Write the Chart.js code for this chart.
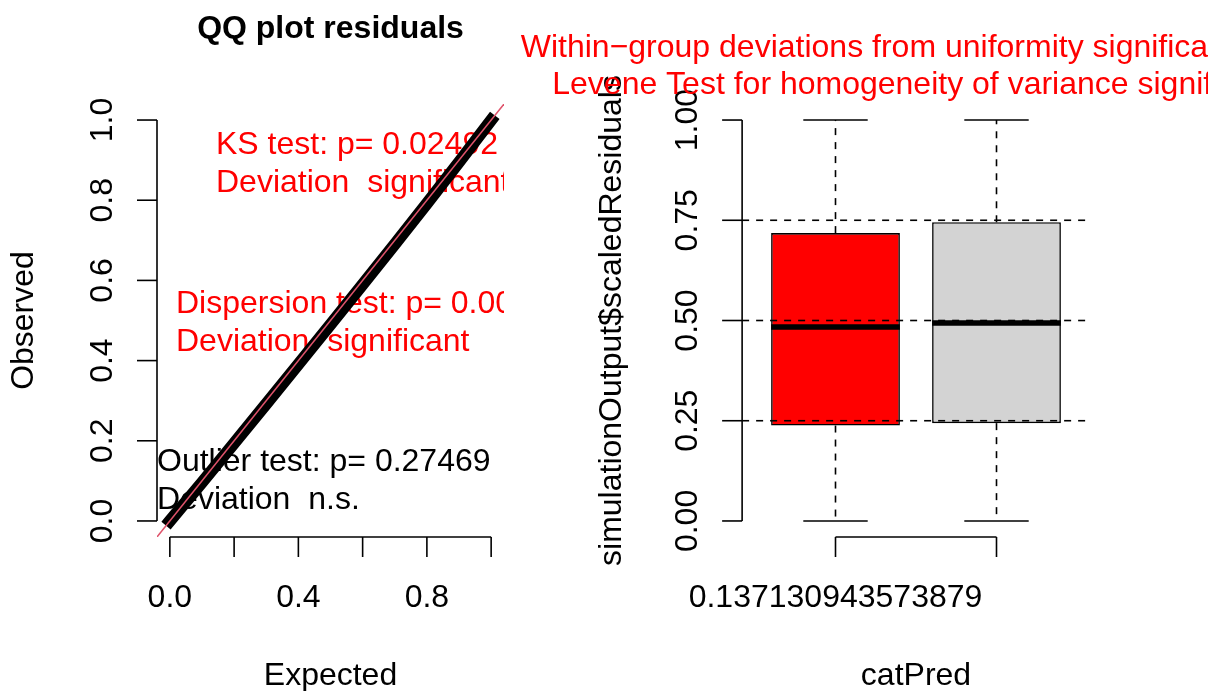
<!DOCTYPE html>
<html>
<head>
<meta charset="utf-8">
<script src="https://cdn.jsdelivr.net/npm/chart.js@4"></script>
<style>
  html, body { margin: 0; padding: 0; background: #fff; }
  #wrap { position: relative; width: 1223px; height: 691px; }
  canvas { position: absolute; left: 0; top: 0; }
</style>
</head>
<body>
<div id="wrap">
  <canvas id="qqChart" width="1223" height="691"></canvas>
  <canvas id="boxChart" width="1223" height="691"></canvas>
</div>
<script>
// QQ plot of the scaled residuals
const qqExpected = [0, 0.1, 0.2, 0.3, 0.4, 0.5, 0.6, 0.7, 0.8, 0.9, 1.0];
const qqObserved = [0, 0.096, 0.194, 0.292, 0.391, 0.49, 0.59, 0.69, 0.792, 0.895, 1.0];
const qqTicks = [0, 0.2, 0.4, 0.6, 0.8, 1.0];
const qqTickLabelsX = ['0.0', '', '0.4', '', '0.8', '']; // R drops the labels that would overlap
const qqTickLabelsY = ['0.0', '0.2', '0.4', '0.6', '0.8', '1.0'];
const ksText = ['KS test: p= 0.02492', 'Deviation  significant'];
const dispText = ['Dispersion test: p= 0.008', 'Deviation  significant'];
const outlierText = ['Outlier test: p= 0.27469', 'Deviation  n.s.'];

// boxplot of scaled residuals per level of catPred
const boxCategories = ['0.137130943573879', '']; // second level label is hidden in the original
const boxMin = [0, 0];
const boxQ1 = [0.238, 0.244];
const boxMedian = [0.484, 0.494];
const boxQ3 = [0.718, 0.745];
const boxMax = [1, 1];
const boxColors = ['#FF0000', '#D3D3D3'];
const boxTicks = [0, 0.25, 0.5, 0.75, 1];
const boxTickLabels = ['0.00', '0.25', '0.50', '0.75', '1.00'];
const refLines = [0.25, 0.5, 0.75];
const boxTitles = [
  'Within\u2212group deviations from uniformity significant (red)',
  'Levene Test for homogeneity of variance significant'
];

const FONT = '"Liberation Sans", Arial, Helvetica, sans-serif';
const FS = 32;
const TICK = 20;
const AXIS_LW = 1.6;

function rotText(ctx, text, x, y) {
  ctx.save();
  ctx.translate(x, y);
  ctx.rotate(-Math.PI / 2);
  ctx.textAlign = 'center';
  ctx.textBaseline = 'alphabetic';
  ctx.fillText(text, 0, 0);
  ctx.restore();
}

function line(ctx, x1, y1, x2, y2) {
  ctx.beginPath();
  ctx.moveTo(x1, y1);
  ctx.lineTo(x2, y2);
  ctx.stroke();
}

// ---------- left panel ----------
const qqPoints = qqExpected.map((x, i) => ({ x: x, y: qqObserved[i] }));
const qqLim = [-0.04, 1.04];

const qqPlugin = {
  id: 'qqAxes',
  beforeDraw(chart) {
    const ctx = chart.ctx;
    ctx.save();
    ctx.fillStyle = '#fff';
    ctx.fillRect(0, 0, chart.width, chart.height);
    ctx.restore();
  },
  beforeDatasetsDraw(chart) {
    const ctx = chart.ctx;
    const a = chart.chartArea;
    ctx.save();
    ctx.beginPath();
    ctx.rect(a.left, a.top, a.right - a.left, a.bottom - a.top);
    ctx.clip();
    ctx.font = FS + 'px ' + FONT;
    ctx.textAlign = 'left';
    ctx.textBaseline = 'alphabetic';
    const blocks = [
      { t: ksText, x: a.left + 59, y: 154, c: '#FF0000' },
      { t: dispText, x: a.left + 19, y: 313, c: '#FF0000' },
      { t: outlierText, x: a.left, y: 471, c: '#000' }
    ];
    blocks.forEach(b => {
      ctx.fillStyle = b.c;
      b.t.forEach((s, i) => ctx.fillText(s, b.x, b.y + i * 38));
    });
    ctx.restore();
  },
  afterDraw(chart) {
    const ctx = chart.ctx;
    const a = chart.chartArea;
    const xs = chart.scales.x;
    const ys = chart.scales.y;
    ctx.save();
    ctx.strokeStyle = '#000';
    ctx.fillStyle = '#000';
    ctx.lineWidth = AXIS_LW;
    // x axis
    line(ctx, xs.getPixelForValue(qqTicks[0]), a.bottom, xs.getPixelForValue(qqTicks[qqTicks.length - 1]), a.bottom);
    ctx.font = FS + 'px ' + FONT;
    ctx.textAlign = 'center';
    qqTicks.forEach((v, i) => {
      const px = xs.getPixelForValue(v);
      line(ctx, px, a.bottom, px, a.bottom + TICK);
      if (qqTickLabelsX[i]) ctx.fillText(qqTickLabelsX[i], px, a.bottom + 70);
    });
    // y axis
    line(ctx, a.left, ys.getPixelForValue(qqTicks[0]), a.left, ys.getPixelForValue(qqTicks[qqTicks.length - 1]));
    qqTicks.forEach((v, i) => {
      const py = ys.getPixelForValue(v);
      line(ctx, a.left - TICK, py, a.left, py);
      rotText(ctx, qqTickLabelsY[i], a.left - 45, py);
    });
    // titles
    const cx = (a.left + a.right) / 2;
    ctx.fillText('Expected', cx, a.bottom + 148);
    rotText(ctx, 'Observed', a.left - 124, (a.top + a.bottom) / 2);
    ctx.font = 'bold ' + FS + 'px ' + FONT;
    ctx.fillText('QQ plot residuals', cx, 38);
    ctx.restore();
  }
};

new Chart(document.getElementById('qqChart'), {
  type: 'scatter',
  data: {
    datasets: [
      {
        // identity line y = x over the whole plot region
        data: [{ x: qqLim[0], y: qqLim[0] }, { x: qqLim[1], y: qqLim[1] }],
        showLine: true,
        borderColor: '#DF536B',
        borderWidth: 1.5,
        pointRadius: 0,
        clip: 0
      },
      {
        data: qqPoints,
        showLine: true,
        borderColor: '#000',
        borderWidth: 12,
        borderCapStyle: 'square',
        pointRadius: 0,
        clip: 0
      }
    ]
  },
  options: {
    responsive: false,
    animation: false,
    layout: { padding: { left: 157, right: 719, top: 104, bottom: 154 } },
    scales: {
      x: { type: 'linear', min: qqLim[0], max: qqLim[1], display: false },
      y: { type: 'linear', min: qqLim[0], max: qqLim[1], display: false }
    },
    plugins: { legend: { display: false }, tooltip: { enabled: false } }
  },
  plugins: [qqPlugin]
});

// ---------- right panel ----------
const boxPlugin = {
  id: 'boxParts',
  afterDatasetsDraw(chart) {
    const ctx = chart.ctx;
    const ys = chart.scales.y;
    const xs = chart.scales.x;
    const meta = chart.getDatasetMeta(0);
    ctx.save();
    ctx.strokeStyle = '#000';
    meta.data.forEach((bar, i) => {
      const x = bar.x;
      const w = bar.width;
      // whiskers
      ctx.lineWidth = AXIS_LW;
      ctx.setLineDash([7, 7]);
      line(ctx, x, ys.getPixelForValue(boxQ3[i]), x, ys.getPixelForValue(boxMax[i]));
      line(ctx, x, ys.getPixelForValue(boxQ1[i]), x, ys.getPixelForValue(boxMin[i]));
      ctx.setLineDash([]);
      // staples
      line(ctx, x - w / 4, ys.getPixelForValue(boxMax[i]), x + w / 4, ys.getPixelForValue(boxMax[i]));
      line(ctx, x - w / 4, ys.getPixelForValue(boxMin[i]), x + w / 4, ys.getPixelForValue(boxMin[i]));
      // median
      ctx.lineWidth = 5.5;
      line(ctx, x - w / 2, ys.getPixelForValue(boxMedian[i]), x + w / 2, ys.getPixelForValue(boxMedian[i]));
    });
    // dashed reference lines across the plot region
    const left = xs.getPixelForValue(-0.58);
    const right = xs.getPixelForValue(boxCategories.length - 1 + 0.58);
    ctx.lineWidth = AXIS_LW;
    ctx.setLineDash([7, 7]);
    refLines.forEach(v => {
      const py = ys.getPixelForValue(v);
      line(ctx, left, py, right, py);
    });
    ctx.restore();
  },
  afterDraw(chart) {
    const ctx = chart.ctx;
    const a = chart.chartArea;
    const xs = chart.scales.x;
    const ys = chart.scales.y;
    const left = xs.getPixelForValue(-0.58);
    const right = xs.getPixelForValue(boxCategories.length - 1 + 0.58);
    ctx.save();
    ctx.strokeStyle = '#000';
    ctx.fillStyle = '#000';
    ctx.lineWidth = AXIS_LW;
    ctx.font = FS + 'px ' + FONT;
    ctx.textAlign = 'center';
    // x axis
    line(ctx, xs.getPixelForValue(0), a.bottom, xs.getPixelForValue(boxCategories.length - 1), a.bottom);
    boxCategories.forEach((lab, i) => {
      const px = xs.getPixelForValue(i);
      line(ctx, px, a.bottom, px, a.bottom + TICK);
      if (lab) ctx.fillText(lab, px, a.bottom + 70);
    });
    // y axis
    line(ctx, left, ys.getPixelForValue(boxTicks[0]), left, ys.getPixelForValue(boxTicks[boxTicks.length - 1]));
    boxTicks.forEach((v, i) => {
      const py = ys.getPixelForValue(v);
      line(ctx, left - TICK, py, left, py);
      rotText(ctx, boxTickLabels[i], left - 45, py);
    });
    const cx = (left + right) / 2;
    ctx.fillText('catPred', cx, a.bottom + 148);
    rotText(ctx, 'simulationOutput$scaledResiduals', left - 121, (a.top + a.bottom) / 2);
    // red test messages above the panel, cut off at the figure edge like the original
    ctx.beginPath();
    ctx.rect(0, 0, 1208, chart.height);
    ctx.clip();
    ctx.fillStyle = '#FF0000';
    boxTitles.forEach((s, i) => ctx.fillText(s, cx, 57 + i * 37));
    ctx.restore();
  }
};

new Chart(document.getElementById('boxChart'), {
  type: 'bar',
  data: {
    labels: boxCategories,
    datasets: [{
      data: boxQ1.map((q, i) => [q, boxQ3[i]]),
      backgroundColor: boxColors,
      borderColor: '#000',
      borderWidth: 1.6,
      borderSkipped: false,
      barPercentage: 0.8,
      categoryPercentage: 1
    }]
  },
  options: {
    responsive: false,
    animation: false,
    layout: { padding: { left: 755, right: 146, top: 104, bottom: 154 } },
    scales: {
      x: { type: 'category', display: false },
      y: { type: 'linear', min: -0.04, max: 1.04, display: false }
    },
    plugins: { legend: { display: false }, tooltip: { enabled: false } }
  },
  plugins: [boxPlugin]
});
</script>
</body>
</html>
